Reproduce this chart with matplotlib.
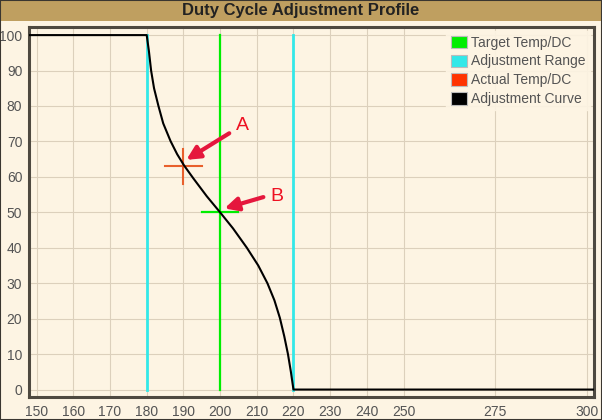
import matplotlib
matplotlib.use('Agg')
import matplotlib.pyplot as plt
from matplotlib.patches import Rectangle

plt.rcParams['font.family'] = ['Liberation Sans', 'DejaVu Sans']

# adjustment curve (temp, duty cycle)
curve_x = [148, 180, 180.6, 181.2, 182.0, 183.2, 184.5, 186.5, 188.3, 190.2, 192.7, 196.4, 200,
           203.5, 207.3, 210.4, 212.9, 214.8, 216.3, 217.5, 218.5, 219.3, 220, 302]
curve_y = [100, 100, 95.5, 90, 85, 80, 75.1, 70.1, 66.4, 63.2, 59.6, 54.5, 50,
           45.5, 40, 35, 30, 25.2, 20.2, 15, 10, 5, 0, 0]

range_lo, range_hi = 180, 220
target_temp, target_dc = 200, 50
actual_temp, actual_dc = 190, 63
cross_half = 5

xticks = [150, 160, 170, 180, 190, 200, 210, 220, 230, 240, 250, 275, 300]
yticks = list(range(0, 101, 10))

legend_labels = ['Target Temp/DC', 'Adjustment Range', 'Actual Temp/DC', 'Adjustment Curve']
legend_colors = ['#00ee00', '#33e8e8', '#ff3300', '#000000']

# annotation arrows: label, text pos, arrow tail, arrow head
notes = [('A', (206.2, 74.6), (202.5, 72.3), (190.8, 64.8)),
         ('B', (215.4, 54.4), (211.8, 54.3), (201.2, 51.1))]

bg = '#fdf4e3'
fig = plt.figure(figsize=(6.02, 4.20), dpi=100)
fig.patch.set_facecolor(bg)

# title bar
fig.patches.append(Rectangle((0, 1 - 21 / 420), 1, 21 / 420, transform=fig.transFigure,
                             facecolor='#bf9f60', edgecolor='none', zorder=0))
fig.patches.append(Rectangle((0, 0), 1, 1, transform=fig.transFigure, facecolor='none',
                             edgecolor='#3a3630', linewidth=1.5, zorder=5))
fig.text(0.5, 1 - 10.5 / 420, 'Duty Cycle Adjustment Profile', ha='center', va='center',
         fontsize=12, fontweight='bold', color='#222222')

ax = fig.add_axes([29.3 / 602, 1 - 397 / 420, (594.3 - 29.3) / 602, (397 - 27.3) / 420])
ax.set_facecolor(bg)
ax.set_xlim(148, 302)
ax.set_ylim(-2.1, 102.2)
ax.set_xticks(xticks)
ax.set_yticks(yticks)
ax.grid(True, color='#dcd0bc', linewidth=0.8)
ax.set_axisbelow(True)
ax.tick_params(length=0, labelsize=10, colors='#545454', pad=6)
ax.tick_params(axis='y', pad=5)
for s in ax.spines.values():
    s.set_color('#4e4940')
    s.set_linewidth(2.2)

ax.plot([target_temp, target_temp], [0, 100], color=legend_colors[0], lw=1.6, zorder=2)
ax.plot([target_temp - cross_half, target_temp + cross_half], [target_dc, target_dc],
        color=legend_colors[0], lw=1.6, zorder=2)
for xr in (range_lo, range_hi):
    ax.plot([xr, xr], [0, 100], color=legend_colors[1], lw=2, zorder=2)
ax.plot([actual_temp - cross_half, actual_temp + cross_half], [actual_dc, actual_dc],
        color='#e8602c', lw=1.5, zorder=3)
ax.plot([actual_temp, actual_temp], [actual_dc - cross_half, actual_dc + cross_half],
        color='#e8602c', lw=1.5, zorder=3)
ax.plot(curve_x, curve_y, color='black', lw=1.5, zorder=4, solid_joinstyle='round')

for label, tpos, tail, head in notes:
    ax.annotate('', xy=head, xytext=tail,
                arrowprops=dict(arrowstyle='-|>,head_length=0.8,head_width=0.4',
                                color='#e5173d', lw=3, shrinkA=0, shrinkB=0), zorder=6)
    ax.text(tpos[0], tpos[1], label, color='#ee1122', fontsize=14, ha='center', va='center', zorder=6)

handles = [Rectangle((0, 0), 1, 1, facecolor=c, edgecolor='#bbbbbb', linewidth=0.8) for c in legend_colors]
leg = ax.legend(handles, legend_labels, loc='upper right', frameon=True, fontsize=10,
                handlelength=1.2, handleheight=1.0, handletextpad=0.3, labelspacing=0.35,
                borderaxespad=0.3, borderpad=0.3, labelcolor='#545454')
leg.get_frame().set_facecolor(bg)
leg.get_frame().set_edgecolor(bg)
leg.get_frame().set_alpha(0.9)

fig.savefig('out.png', dpi=100, facecolor=fig.get_facecolor())
